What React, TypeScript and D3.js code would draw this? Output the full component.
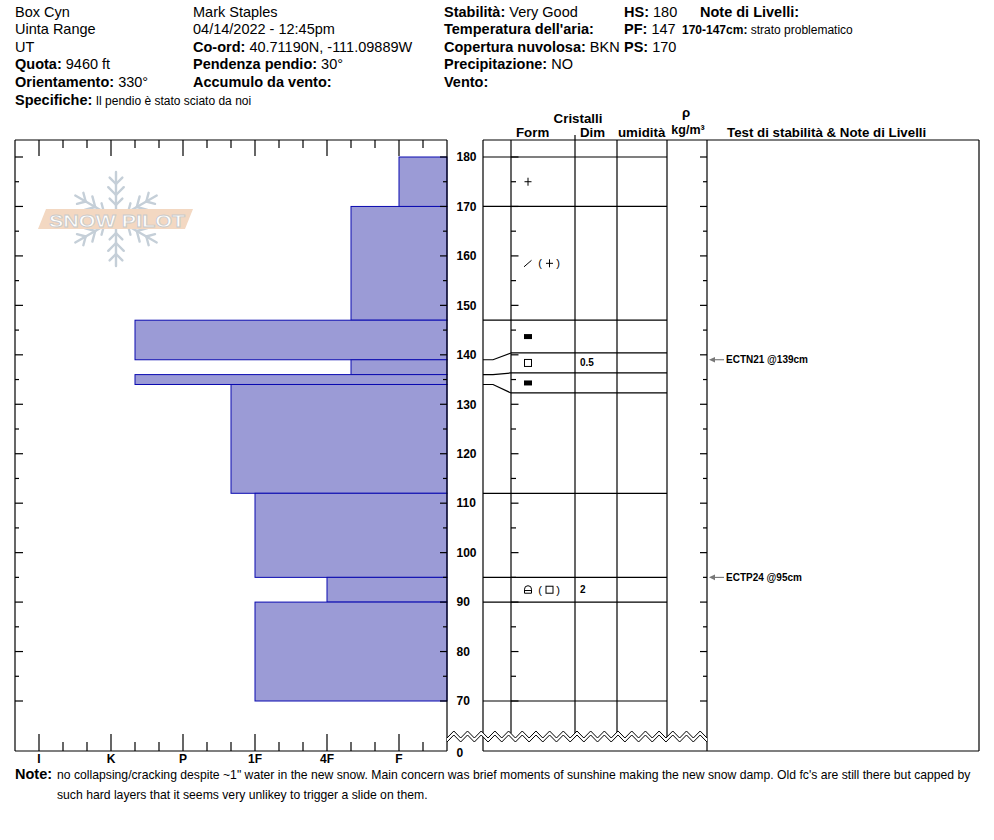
import React from 'react';
import * as d3 from 'd3';

const FONT = "'Liberation Sans', Arial, Helvetica, sans-serif";

// --- header data ---
const headerCol1 = [['', 'Box Cyn'], ['', 'Uinta Range'], ['', 'UT'], ['Quota:', '9460 ft'], ['Orientamento:', '330°']];
const headerCol2 = [['', 'Mark Staples'], ['', '04/14/2022 - 12:45pm'], ['Co-ord:', '40.71190N, -111.09889W'], ['Pendenza pendio:', '30°'], ['Accumulo da vento:', '']];
const headerCol3 = [['Stabilità:', 'Very Good'], ["Temperatura dell'aria:", ''], ['Copertura nuvolosa:', 'BKN'], ['Precipitazione:', 'NO'], ['Vento:', '']];
const headerCol4 = [['HS:', '180'], ['PF:', '147'], ['PS:', '170']];
const specifiche = 'Il pendio è stato sciato da noi';
const layerNoteDepth = '170-147cm:';
const layerNoteText = 'strato problematico';
const noteLines = [
  'no collapsing/cracking despite ~1" water in the new snow. Main concern was brief moments of sunshine making the new snow damp. Old fc\'s are still there but capped by',
  'such hard layers that it seems very unlikey to trigger a slide on them.',
];

// --- snow profile data ---
const layerTop = [180, 170, 147, 139, 136, 134, 112, 95, 90];
const layerBottom = [170, 147, 139, 136, 134, 112, 95, 90, 70];
const layerHardness = ['F', '4F-', 'K-', '4F-', 'K-', '1F+', '1F', '4F', '1F'];
const grainPrimary = ['PP', 'DF', 'IF', 'FC', 'IF', '', '', 'FCxr', ''];
const grainSecondary = ['', 'PP', '', '', '', '', '', 'FC', ''];
const grainSize = ['', '', '', '0.5', '', '', '', '2', ''];

const hardnessLabels = ['F', '4F', '1F', 'P', 'K', 'I'];
const testDepths = [139, 95];
const testLabels = ['ECTN21 @139cm', 'ECTP24 @95cm'];

const depthTicks = d3.range(70, 181, 5);

function hardnessValue(h: string) {
  const base = h.replace(/[+-]$/, '');
  let v = hardnessLabels.indexOf(base) + 1;
  if (h.endsWith('+')) v += 1 / 3;
  if (h.endsWith('-')) v -= 1 / 3;
  return v;
}

// left hardness panel
const PL = 15, PR = 447, TOP = 140, BOT = 751;
const x = d3.scaleLinear().domain([1 / 3, 19 / 3]).range([PR, PL]);
const y = d3.scaleLinear().domain([70, 180]).range([701, 157]);

// table columns
const TL = 483, CF = 511, CD = 575, CU = 617, CR = 667, RP = 707, RR = 979;

// spread crowded boundaries in the table so rows keep a minimum height
function spread(ys: number[], gap: number) {
  const clusters = ys.map((v) => [v]);
  const place = (c: number[]) => {
    const m = d3.mean(c) as number;
    return c.map((_, k) => m + (k - (c.length - 1) / 2) * gap);
  };
  let changed = true;
  while (changed) {
    changed = false;
    for (let i = 0; i < clusters.length - 1; i++) {
      const a = place(clusters[i]);
      const b = place(clusters[i + 1]);
      if (b[0] - a[a.length - 1] < gap - 0.01) {
        clusters.splice(i, 2, clusters[i].concat(clusters[i + 1]));
        changed = true;
        break;
      }
    }
  }
  return clusters.flatMap(place);
}

const boundaries = Array.from(new Set([...layerTop, ...layerBottom])).sort((a, b) => b - a);
const actualY = boundaries.map((d) => y(d));
const shownY = spread(actualY, 20);
const shownOf = (d: number) => shownY[boundaries.indexOf(d)];

// zigzag break
const ZX0 = PR, ZX1 = RP, ZN = 38;
const zStep = (ZX1 - ZX0) / ZN;
const zigUp = (i: number) => (i % 2 === 0 ? 738 : 731);
const zigPts = (off: number) => d3.range(ZN + 1).map((i) => [ZX0 + i * zStep, zigUp(i) + off] as [number, number]);
const zigYAt = (xx: number, off: number) => {
  const t = (xx - ZX0) / zStep;
  const i = Math.max(0, Math.min(Math.floor(t), ZN - 1));
  const f = t - i;
  return zigUp(i) + (zigUp(i + 1) - zigUp(i)) * f + off;
};

function GrainSymbol({ code, cx, cy }: { code: string; cx: number; cy: number }) {
  const s = { stroke: '#000', strokeWidth: 1, fill: 'none' };
  if (code === 'PP') {
    return (
      <g {...s}>
        <line x1={cx - 3.5} y1={cy} x2={cx + 3.5} y2={cy} />
        <line x1={cx} y1={cy - 4} x2={cx} y2={cy + 4} />
      </g>
    );
  }
  if (code === 'DF') {
    return <line {...s} x1={cx - 4} y1={cy + 3.5} x2={cx + 3.5} y2={cy - 3} />;
  }
  if (code === 'IF') {
    return <rect x={cx - 4} y={cy - 2.5} width={8} height={5} fill="#000" />;
  }
  if (code === 'FC') {
    return <rect {...s} x={cx - 3.5} y={cy - 3.5} width={7} height={7} />;
  }
  if (code === 'FCxr') {
    return (
      <g {...s}>
        <path d={`M${cx - 3.5},${cy + 3.5} V${cy - 0.5} A3.5,3.5 0 0 1 ${cx + 3.5},${cy - 0.5} V${cy + 3.5} Z`} />
        <line x1={cx - 3.5} y1={cy + 0.8} x2={cx + 3.5} y2={cy + 0.8} />
      </g>
    );
  }
  return null;
}

function Snowflake({ cx, cy }: { cx: number; cy: number }) {
  const arms = d3.range(6).map((k) => (k * Math.PI) / 3 - Math.PI / 2);
  const R = 47;
  const branches = [
    [14, 9],
    [24, 11],
    [35, 9],
  ];
  return (
    <g stroke="#c5cfd8" strokeWidth={2.4} strokeLinecap="round" fill="none">
      {arms.map((a, i) => {
        const ux = Math.cos(a), uy = Math.sin(a);
        return (
          <g key={i}>
            <line x1={cx + ux * 6} y1={cy + uy * 6} x2={cx + ux * R} y2={cy + uy * R} />
            {branches.map(([r, len], j) =>
              [-1, 1].map((sg) => {
                const b = a + sg * (Math.PI / 4);
                const px = cx + ux * r, py = cy + uy * r;
                return <line key={`${j}${sg}`} x1={px} y1={py} x2={px + Math.cos(b) * len} y2={py + Math.sin(b) * len} />;
              })
            )}
          </g>
        );
      })}
    </g>
  );
}

function HeaderCol({ rows, x0, size = 14.5 }: { rows: string[][]; x0: number; size?: number }) {
  return (
    <g>
      {rows.map(([label, value], i) => (
        <text key={i} x={x0} y={16.5 + i * 17.6} fontSize={size}>
          {label && <tspan fontWeight="bold">{label}</tspan>}
          {label && value ? ' ' : ''}
          {value}
        </text>
      ))}
    </g>
  );
}

export default function App() {
  const hTicks = d3.range(2, 19).map((k) => ({ v: k / 3, major: k % 3 === 0 }));
  const line = d3.line();

  return (
    <svg width={994} height={840} style={{ position: 'absolute', left: 0, top: 0, background: '#fff' }} fontFamily={FONT}>
      {/* header */}
      <HeaderCol rows={headerCol1} x0={15} />
      <HeaderCol rows={headerCol2} x0={193} />
      <HeaderCol rows={headerCol3} x0={444} />
      <HeaderCol rows={headerCol4} x0={624} />
      <text x={15} y={16.5 + 5 * 17.6} fontSize={14.5}>
        <tspan fontWeight="bold">Specifiche:</tspan>
        <tspan fontSize={12}> {specifiche}</tspan>
      </text>
      <text x={700} y={16.5} fontSize={14.5} fontWeight="bold">Note di Livelli:</text>
      <text x={682} y={16.5 + 17.6} fontSize={12}>
        <tspan fontWeight="bold">{layerNoteDepth}</tspan> {layerNoteText}
      </text>

      {/* logo */}
      <g>
        <Snowflake cx={116} cy={219} />
        <polygon points="46,209 193,209 185,229 38,229" fill="#f3d8c2" />
        <text x={117} y={226.5} textAnchor="middle" fontSize={17} fontWeight="bold" fill="#fff" stroke="#c9c9c9" strokeWidth={0.8} textLength={136} lengthAdjust="spacingAndGlyphs">
          SNOW PILOT
        </text>
      </g>

      {/* hardness bars */}
      {layerTop.map((t, i) => (
        <rect key={i} x={x(hardnessValue(layerHardness[i]))} y={y(t)} width={PR - x(hardnessValue(layerHardness[i]))} height={y(layerBottom[i]) - y(t)} fill="#9b9bd6" stroke="#0a0ab0" strokeWidth={1} />
      ))}

      {/* left panel frame */}
      <g stroke="#000" strokeWidth={1.2} fill="none">
        <line x1={PL} y1={TOP} x2={PR} y2={TOP} />
        <line x1={PL} y1={TOP} x2={PL} y2={BOT} />
        <line x1={PL} y1={BOT} x2={PR} y2={BOT} />
        <line x1={PR} y1={TOP} x2={PR} y2={BOT} />
        {hTicks.map((t, i) => (
          <g key={i}>
            <line x1={x(t.v)} y1={TOP} x2={x(t.v)} y2={TOP + (t.major ? 16 : 8)} />
            <line x1={x(t.v)} y1={BOT} x2={x(t.v)} y2={BOT - (t.major ? 17 : 9)} />
          </g>
        ))}
        {depthTicks.map((d) => {
          const major = d % 10 === 0;
          return (
            <g key={d}>
              <line x1={PL} y1={y(d)} x2={PL + (major ? 8 : 4)} y2={y(d)} />
              <line x1={PR} y1={y(d)} x2={PR - (major ? 7 : 4)} y2={y(d)} />
              <line x1={CF} y1={y(d)} x2={CF + (major ? 7.5 : 5)} y2={y(d)} />
              <line x1={RP} y1={y(d)} x2={RP - (major ? 7 : 4)} y2={y(d)} />
            </g>
          );
        })}
      </g>
      {hardnessLabels.map((h, i) => (
        <text key={h} x={x(i + 1)} y={762.5} textAnchor="middle" fontSize={12} fontWeight="bold">{h}</text>
      ))}

      {/* depth labels */}
      {depthTicks.filter((d) => d % 10 === 0).map((d) => (
        <text key={d} x={456.5} y={y(d) + 4.3} fontSize={12} fontWeight="bold">{d}</text>
      ))}
      <text x={456.5} y={756.5} fontSize={12} fontWeight="bold">0</text>

      {/* table header */}
      <g fontSize={13.3} fontWeight="bold">
        <text x={578} y={123} textAnchor="middle">Cristalli</text>
        <text x={516} y={137}>Form</text>
        <text x={580} y={137}>Dim</text>
        <text x={618} y={137}>umidità</text>
        <text x={686} y={117} textAnchor="middle">ρ</text>
        <text x={688} y={134} textAnchor="middle" fontSize={12.5}>kg/m³</text>
        <text x={727} y={137}>Test di stabilità &amp; Note di Livelli</text>
      </g>

      {/* table grid */}
      <g stroke="#000" strokeWidth={1.2} fill="none">
        <line x1={TL} y1={TOP} x2={RR} y2={TOP} />
        <line x1={RR} y1={TOP} x2={RR} y2={BOT} />
        <line x1={TL} y1={BOT} x2={RR} y2={BOT} />
        <line x1={TL} y1={TOP} x2={TL} y2={BOT} />
        <line x1={RP} y1={TOP} x2={RP} y2={BOT} />
        <line x1={CD} y1={135} x2={CD} y2={TOP} />
        {[CF, CD, CU, CR].map((cx) => (
          <line key={cx} x1={cx} y1={TOP} x2={cx} y2={zigYAt(cx, 0)} />
        ))}
        {boundaries.map((d, i) => {
          const ya = actualY[i], ys = shownY[i];
          if (Math.abs(ya - ys) < 0.5) return <line key={d} x1={TL} y1={ya} x2={CR} y2={ya} />;
          return (
            <g key={d}>
              <path d={line([[TL, ya], [TL + 10, ya], [CF, ys]]) || ''} />
              <line x1={CF} y1={ys} x2={CR} y2={ys} />
            </g>
          );
        })}
      </g>

      {/* grain forms and sizes */}
      {layerTop.map((t, i) => {
        const cy = (shownOf(t) + shownOf(layerBottom[i])) / 2;
        return (
          <g key={i}>
            <GrainSymbol code={grainPrimary[i]} cx={528} cy={cy} />
            {grainSecondary[i] && (
              <g>
                <text x={540} y={cy + 4} fontSize={11} textAnchor="middle">(</text>
                <GrainSymbol code={grainSecondary[i]} cx={549.5} cy={cy} />
                <text x={558} y={cy + 4} fontSize={11} textAnchor="middle">)</text>
              </g>
            )}
            {grainSize[i] && (
              <text x={580} y={cy + 3.5} fontSize={10} fontWeight="bold">{grainSize[i]}</text>
            )}
          </g>
        );
      })}

      {/* stability tests */}
      {testDepths.map((d, i) => (
        <g key={d}>
          <line x1={712} y1={y(d)} x2={724} y2={y(d)} stroke="#666" strokeWidth={1} />
          <path d={`M709,${y(d)} L715,${y(d) - 2.8} L715,${y(d) + 2.8} Z`} fill="#777" />
          <text x={726} y={y(d) + 3.6} fontSize={10} fontWeight="bold">{testLabels[i]}</text>
        </g>
      ))}

      {/* axis break */}
      <path d={(line([...zigPts(0), ...zigPts(4).reverse()]) || '') + 'Z'} fill="#fff" stroke="none" />
      <path d={line(zigPts(0)) || ''} fill="none" stroke="#000" strokeWidth={1} />
      <path d={line(zigPts(4)) || ''} fill="none" stroke="#000" strokeWidth={1} />

      {/* note */}
      <text x={15} y={779} fontSize={14.5} fontWeight="bold">Note:</text>
      {noteLines.map((l, i) => (
        <text key={i} x={57} y={779 + i * 20} fontSize={12.2}>{l}</text>
      ))}
    </svg>
  );
}
